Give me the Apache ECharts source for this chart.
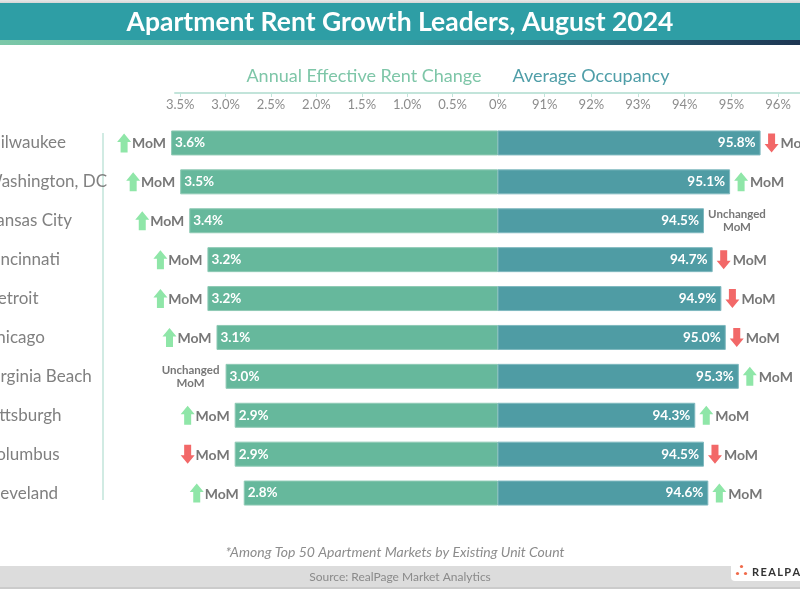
<!DOCTYPE html>
<html>
<head>
<meta charset="utf-8">
<script src="https://cdn.jsdelivr.net/npm/echarts@6/dist/echarts.min.js"></script>
<style>html,body{margin:0;padding:0;background:#fff;}#c{width:800px;height:600px;}</style>
</head>
<body>
<div id="c"></div>
<script>
const cities = ['Milwaukee','Washington, DC','Kansas City','Cincinnati','Detroit','Chicago','Virginia Beach','Pittsburgh','Columbus','Cleveland'];
const rentChange = [3.6,3.5,3.4,3.2,3.2,3.1,3.0,2.9,2.9,2.8];
const rentMoM = [1,1,1,1,1,1,0,1,-1,1];      // 1 up, -1 down, 0 unchanged
const occupancy = [95.8,95.1,94.5,94.7,94.9,95.0,95.3,94.3,94.5,94.6];
const occMoM = [-1,1,0,-1,-1,-1,1,1,-1,1];
const rentTicks = [0,0.5,1.0,1.5,2.0,2.5,3.0,3.5];
const occTicks = [91,92,93,94,95,96];

const FONT = 'Lato, "Noto Sans", sans-serif';
const GREEN = '#66b89c', TEAL = '#4f9ca4';
const UP = '#8fe6a8', DOWN = '#f26868', GREY = '#777777';

function arrowPts(cx, cy, dir){
  const hw = 7, sw = 3.5, h = 9.5;
  const s = dir > 0 ? 1 : -1;
  return [[cx, cy - s*h],[cx + hw, cy - s*1],[cx + sw, cy - s*1],[cx + sw, cy + s*h],
          [cx - sw, cy + s*h],[cx - sw, cy - s*1],[cx - hw, cy - s*1]];
}
function momRender(side){
  return function(params, api){
    const v = api.value(0), i = api.value(1), d = api.value(2);
    const p = api.coord([v, i]);
    const x = p[0], y = p[1];
    const ch = [];
    if (d === 0) {
      const w = 60;
      const cx = side < 0 ? x - 5 - w/2 : x + 3 + w/2;
      ch.push({type:'text', style:{text:'Unchanged\nMoM', x:cx, y:y, align:'center', verticalAlign:'middle',
        fill:GREY, font:'bold 11.5px ' + FONT, lineHeight:13}});
    } else {
      const col = d > 0 ? UP : DOWN;
      let ax, tx, ta;
      if (side < 0) { tx = x - 5; ta = 'right'; ax = x - 5 - 33 - 2 - 7; }
      else { ax = x + 4 + 7; tx = x + 4 + 14 + 2; ta = 'left'; }
      ch.push({type:'polygon', shape:{points:arrowPts(ax, y, d)}, style:{fill:col}});
      ch.push({type:'text', style:{text:'MoM', x:tx, y:y+1, align:ta, verticalAlign:'middle',
        fill:GREY, font:'bold 14px ' + FONT}});
    }
    return {type:'group', children:ch};
  };
}

const chart = echarts.init(document.getElementById('c'), null, {renderer:'canvas'});
const gridTop = 123.5, gridH = 389;
const axisCommon = {
  position:'top', offset:30.5,
  axisLine:{show:true, lineStyle:{color:'#c2e4da', width:2}},
  axisTick:{show:true, inside:true, length:4, lineStyle:{color:'#c2e4da'}},
  axisLabel:{inside:true, margin:5, color:'#8c8c8c', fontSize:13, fontFamily:FONT},
  splitLine:{show:false}
};
chart.setOption({
  animation:false,
  grid:[
    {left:175, width:323, top:gridTop, height:gridH, containLabel:false, outerBoundsMode:'none'},
    {left:498, right:0, top:gridTop, height:gridH, containLabel:false, outerBoundsMode:'none'}
  ],
  xAxis:[
    Object.assign({}, axisCommon, {gridIndex:0, type:'value', inverse:true, min:0, max:3.557, interval:0.5,
      axisLabel:Object.assign({}, axisCommon.axisLabel, {formatter:function(v){return v===0?'0%':v.toFixed(1)+'%';}})}),
    Object.assign({}, axisCommon, {gridIndex:1, type:'value', min:90, max:96.47, interval:1,
      axisTick:Object.assign({}, axisCommon.axisTick, {customValues:occTicks}),
      axisLabel:Object.assign({}, axisCommon.axisLabel, {customValues:occTicks, formatter:function(v){return v+'%';}})}),
    {gridIndex:1, type:'value', min:89.77, max:96.705, show:false, splitLine:{show:false}}
  ],
  yAxis:[
    {gridIndex:0, type:'category', data:cities, inverse:true,
      axisLine:{show:false}, axisTick:{show:false},
      axisLabel:{align:'left', margin:190, color:'#808080', fontSize:17, fontFamily:FONT}},
    {gridIndex:1, type:'category', data:cities, inverse:true, show:false}
  ],
  series:[
    {type:'bar', xAxisIndex:0, yAxisIndex:0, data:rentChange, barWidth:25, clip:false,
      itemStyle:{color:GREEN, borderColor:'#8fcab5', borderWidth:1},
      label:{show:true, position:'insideLeft', distance:4, color:'#fff', fontWeight:'bold', fontSize:13.5, fontFamily:FONT,
        formatter:function(p){return p.value.toFixed(1)+'%';}}},
    {type:'bar', xAxisIndex:2, yAxisIndex:1, data:occupancy, barWidth:25,
      itemStyle:{color:TEAL, borderColor:'#7fb9bf', borderWidth:1},
      label:{show:true, position:'insideRight', distance:5, color:'#fff', fontWeight:'bold', fontSize:13.5, fontFamily:FONT,
        formatter:function(p){return p.value.toFixed(1)+'%';}}},
    {type:'custom', xAxisIndex:0, yAxisIndex:0, clip:false, renderItem:momRender(-1),
      encode:{x:0, y:1}, data:rentChange.map(function(v,i){return [v,i,rentMoM[i]];}), z:5},
    {type:'custom', xAxisIndex:2, yAxisIndex:1, clip:false, renderItem:momRender(1),
      encode:{x:0, y:1}, data:occupancy.map(function(v,i){return [v,i,occMoM[i]];}), z:5}
  ],
  graphic:[
    {type:'rect', shape:{x:0, y:0, width:800, height:4}, style:{fill:new echarts.graphic.LinearGradient(0,0,0,1,[{offset:0,color:'#e8e8e8'},{offset:1,color:'#cfcfcf'}])}},
    {type:'rect', shape:{x:0, y:3, width:800, height:38}, style:{fill:'#2e9ea5'}},
    {type:'rect', shape:{x:0, y:40, width:800, height:5}, style:{fill:new echarts.graphic.LinearGradient(0,0,1,0,[{offset:0,color:'#7cc8a8'},{offset:0.5,color:'#3a9aa0'},{offset:1,color:'#1d3552'}])}},
    {type:'text', style:{text:'Apartment Rent Growth Leaders, August 2024', x:400, y:22, align:'center', verticalAlign:'middle',
      fill:'#ffffff', font:'bold 26.5px ' + FONT}},
    {type:'text', style:{text:'Annual Effective Rent Change', x:364, y:76, align:'center', verticalAlign:'middle',
      fill:'#7ec6a8', font:'18px ' + FONT}},
    {type:'text', style:{text:'Average Occupancy', x:591, y:76, align:'center', verticalAlign:'middle',
      fill:'#4f9ea8', font:'18px ' + FONT}},
    {type:'line', shape:{x1:103, y1:133, x2:103, y2:500}, style:{stroke:'#c2e4da', lineWidth:1.5}},
    {type:'text', style:{text:'*Among Top 50 Apartment Markets by Existing Unit Count', x:395, y:552, align:'center', verticalAlign:'middle',
      fill:'#8c8c8c', font:'italic 14px ' + FONT}},
    {type:'rect', shape:{x:0, y:566, width:800, height:21}, style:{fill:'#dcdcdc'}},
    {type:'rect', shape:{x:0, y:587, width:800, height:2}, style:{fill:'#cbcbcb'}},
    {type:'text', style:{text:'Source: RealPage Market Analytics', x:400, y:577, align:'center', verticalAlign:'middle',
      fill:'#8a8a8a', font:'12px ' + FONT}},
    {type:'rect', shape:{x:731, y:561, width:80, height:20, r:4}, style:{fill:'#ffffff'}},
    {type:'circle', shape:{cx:741.5, cy:566.5, r:1.6}, style:{fill:'#f06a4a'}},
    {type:'circle', shape:{cx:737.5, cy:573.5, r:1.6}, style:{fill:'#f06a4a'}},
    {type:'circle', shape:{cx:745.5, cy:573.5, r:1.6}, style:{fill:'#f06a4a'}},
    {type:'text', style:{text:'R\u2009E\u2009A\u2009L\u2009P\u2009A\u2009G\u2009E', x:752, y:572, align:'left', verticalAlign:'middle',
      fill:'#333333', font:'bold 11px ' + FONT}}
  ]
});
</script>
</body>
</html>
